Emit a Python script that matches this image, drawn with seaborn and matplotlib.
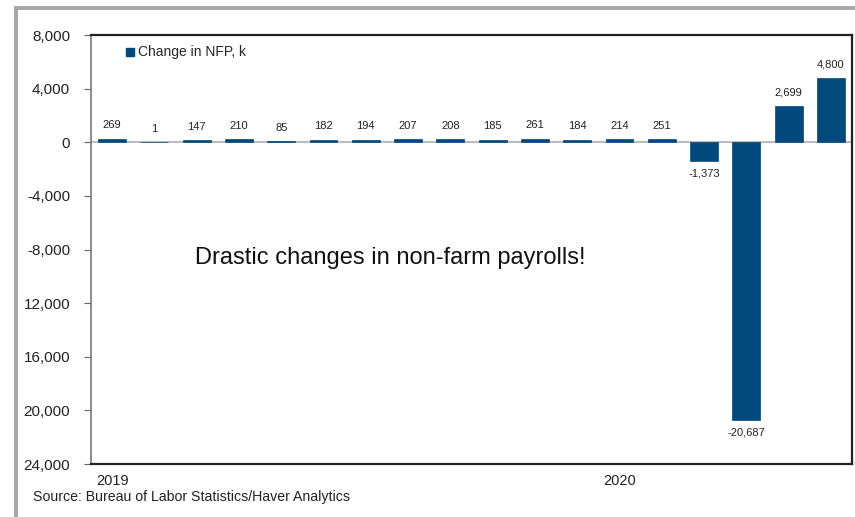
import matplotlib
matplotlib.use("Agg")
import matplotlib.pyplot as plt
import seaborn as sns
import pandas as pd
from matplotlib.lines import Line2D
from matplotlib.patches import Rectangle

# Monthly change in non-farm payrolls, thousands (Jan 2019 - Jun 2020)
months = ["2019-01", "2019-02", "2019-03", "2019-04", "2019-05", "2019-06",
          "2019-07", "2019-08", "2019-09", "2019-10", "2019-11", "2019-12",
          "2020-01", "2020-02", "2020-03", "2020-04", "2020-05", "2020-06"]
nfp_change = [269, 1, 147, 210, 85, 182, 194, 207, 208, 185, 261, 184,
              214, 251, -1373, -20687, 2699, 4800]
year_labels = {"2019-01": "2019", "2020-01": "2020"}
ytick_values = [8000, 4000, 0, -4000, -8000, -12000, -16000, -20000, -24000]
ytick_labels = ["8,000", "4,000", "0", "-4,000", "-8,000",
                "12,000", "16,000", "20,000", "24,000"]

df = pd.DataFrame({"month": months, "change": nfp_change})

sns.set_theme(style="white")
plt.rcParams["font.family"] = ["Liberation Sans", "DejaVu Sans"]

bar_color = "#00497c"
fig = plt.figure(figsize=(8.55, 5.17), dpi=100)
W, H = 855, 517
ax = fig.add_axes([91 / W, 1 - 464 / H, (852 - 91) / W, (464 - 35) / H])

sns.barplot(data=df, x="month", y="change", color=bar_color, width=0.66,
            saturation=1, ax=ax, zorder=3, edgecolor=bar_color, linewidth=0.5)

ax.set_xlim(-0.5, len(months) - 0.5)
ax.set_ylim(-24000, 8000)
ax.set_yticks(ytick_values)
ax.set_yticklabels(ytick_labels, fontsize=11, color="#222222")
ax.set_xticks([])
ax.set_xlabel("")
ax.set_ylabel("")
ax.tick_params(axis="y", which="both", left=True, length=5, width=0.8,
               color="#666666", pad=10)

# Zero line
ax.axhline(0, color="#b0b0b0", lw=1.2, zorder=2)

# Frame
for side in ["top", "right", "bottom"]:
    ax.spines[side].set_color("#222222")
    ax.spines[side].set_linewidth(1.6)
ax.spines["left"].set_color("#777777")
ax.spines["left"].set_linewidth(1.2)

# Value labels
for i, v in enumerate(nfp_change):
    txt = f"{v:,}"
    if v >= 0:
        ax.annotate(txt, (i, v), xytext=(0, 6), textcoords="offset points",
                    ha="center", va="bottom", fontsize=8, color="#222222")
    else:
        ax.annotate(txt, (i, v), xytext=(0, -6), textcoords="offset points",
                    ha="center", va="top", fontsize=8, color="#222222")

# Year labels under the axis
for i, m in enumerate(months):
    if m in year_labels:
        ax.annotate(year_labels[m], (i, 0), xycoords=("data", "axes fraction"),
                    xytext=(0, -7), textcoords="offset points",
                    ha="center", va="top", fontsize=10.5, color="#222222")

# Legend
handle = Line2D([], [], marker="s", linestyle="none", markersize=5.5,
                markerfacecolor=bar_color, markeredgecolor=bar_color)
ax.legend([handle], ["Change in NFP, k"], loc="upper left",
          bbox_to_anchor=(0.03, 1.0), frameon=False, fontsize=10,
          handletextpad=0.2, borderaxespad=0.35, handlelength=0.8)

# Annotation
ax.text(0.137, 0.48, "Drastic changes in non-farm payrolls!",
        transform=ax.transAxes, fontsize=17, color="#111111",
        ha="left", va="center")

# Source
fig.text(33 / W, 1 - 497 / H, "Source: Bureau of Labor Statistics/Haver Analytics",
         fontsize=10.2, color="#222222", ha="left", va="center")

# Slide-style gray border on top and left
fig.add_artist(Rectangle((14 / W, 0), 3.5 / W, 1 - 6 / H,
                         transform=fig.transFigure, color="#a6a6a6", lw=0))
fig.add_artist(Rectangle((14 / W, 1 - 9.5 / H), 1 - 14 / W, 3.5 / H,
                         transform=fig.transFigure, color="#a6a6a6", lw=0))

fig.savefig("out.png", dpi=100)
